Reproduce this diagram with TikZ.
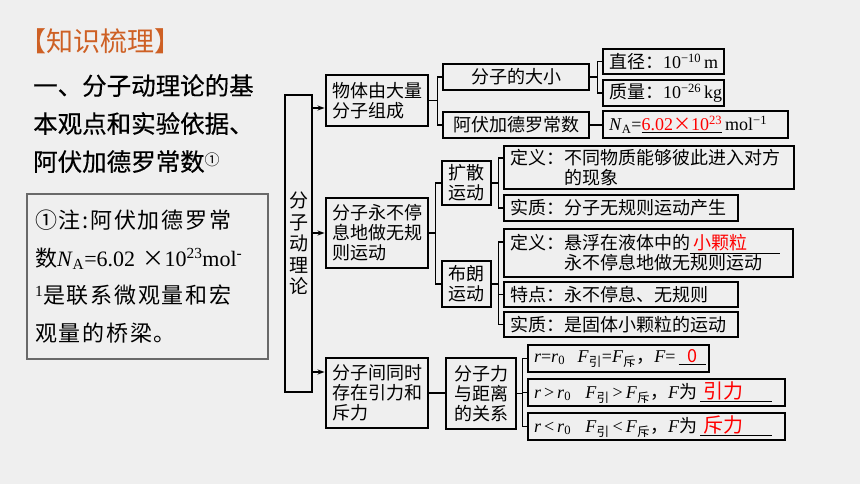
\documentclass[tikz,border=0pt]{standalone}
\usepackage{fontspec}
\usepackage{tikz}
\usepackage{xcolor}
\usetikzlibrary{arrows.meta}
\setmainfont{Liberation Serif}
\newfontfamily\cjk{Noto Sans CJK SC}
\newfontfamily\cjkhead[FakeBold=0.4]{Noto Sans CJK SC}
\newfontfamily\cjknote[LetterSpace=8]{Noto Sans CJK SC}
\definecolor{page-bg}{RGB}{239,239,239}
\definecolor{title-orange}{RGB}{206,96,36}
\definecolor{note-gray}{RGB}{105,105,105}
\newcommand{\Fsub}[1]{\textit{F}\textsubscript{\cjk #1}}
\tikzset{
    map-box/.style = {draw=black, line width=1.5pt, rectangle, inner xsep=6pt, inner ysep=0pt, align=left, font=\cjk\fontsize{18}{20}\selectfont},
    map-line/.style = {draw=black, line width=1.3pt},
    map-arrow/.style = {map-line, -{Stealth[length=7pt,width=5pt]}, shorten >=0.7pt},
    note-box/.style = {draw=note-gray, line width=1.2pt, rectangle, inner xsep=8pt, inner ysep=0pt, align=left, font=\cjknote\fontsize{22}{37.5}\selectfont},
}

\begin{document}
\begin{tikzpicture}[x=1pt,y=-1pt]
\fill[page-bg] (0,0) rectangle (860,484);
\useasboundingbox (0,0) rectangle (860,484);

\node[anchor=west, inner sep=0pt, text=title-orange, font=\cjk\fontsize{27}{27}\selectfont] (title) at (19,41) {【知识梳理】};
\node[anchor=north west, inner sep=0pt, align=left, font=\cjkhead\fontsize{24.5}{38}\selectfont] (heading) at (33,74) {一、分子动理论的基\\本观点和实验依据、\\阿伏加德罗常数{\cjk\fontsize{15}{15}\selectfont\raisebox{5pt}{①}}};
\node[note-box, text width=225pt, minimum height=165pt] (note) at (147.5,276.5) {①注:阿伏加德罗常\\数{\rmfamily\textit{N}\textsubscript{A}=6.02 {\cjk ×}10\textsuperscript{23}mol\textsuperscript{-}}\\{\rmfamily\textsuperscript{1}}是联系微观量和宏\\观量的桥梁。};

\node[map-box, minimum width=27pt, minimum height=297pt, inner xsep=0pt, align=center, font=\cjk\fontsize{19}{21.5}\selectfont] (root) at (298.5,243.5) {分\\子\\动\\理\\论};

\node[map-box, text width=90pt, minimum height=51pt] (b1) at (377,100.5) {物体由大量\\分子组成};
\node[map-box, text width=90pt, minimum height=70pt] (b2) at (377,233) {分子永不停\\息地做无规\\则运动};
\node[map-box, text width=90pt, minimum height=70pt] (b3) at (377,393) {分子间同时\\存在引力和\\斥力};

\node[map-box, minimum width=146pt, minimum height=26pt, align=center] (c1) at (516,77) {分子的大小};
\node[map-box, minimum width=146pt, minimum height=26pt, align=center] (c2) at (516,125) {阿伏加德罗常数};

\node[map-box, text width=109pt, minimum height=25pt] (d1) at (663.5,61.5) {直径：{\rmfamily 10\textsuperscript{−10}\,m}};
\node[map-box, text width=109pt, minimum height=26pt] (d2) at (663.5,93) {质量：{\rmfamily 10\textsuperscript{−26}\,kg}};
\node[map-box, text width=173pt, minimum height=27pt] (d3) at (695.5,124.5) {\rmfamily\textit{N}\textsubscript{A}=\underline{\textcolor{red}{6.02{\cjk ×}10\textsuperscript{23}}}\,mol\textsuperscript{−1}};

\node[map-box, minimum width=49pt, minimum height=44pt, align=center] (e1) at (466.5,183) {扩散\\运动};
\node[map-box, minimum width=49pt, minimum height=46pt, align=center] (e2) at (466.5,284) {布朗\\运动};

\node[map-box, text width=278pt, minimum height=43pt] (f1) at (649,167.5) {定义：不同物质能够彼此进入对方\\\hspace*{3em}的现象};
\node[map-box, text width=222pt, minimum height=26pt] (f2) at (621,208) {实质：分子无规则运动产生};

\node[map-box, text width=277pt, minimum height=48pt] (g1) at (648.5,253) {定义：悬浮在液体中的\underline{\makebox[5em][l]{\hspace{0.2em}\textcolor{red}{小颗粒}}}\\\hspace*{3em}永不停息地做无规则运动};
\node[map-box, text width=222pt, minimum height=25pt] (g2) at (621,294.5) {特点：永不停息、无规则};
\node[map-box, text width=222pt, minimum height=25pt] (g3) at (621,324.5) {实质：是固体小颗粒的运动};

\node[map-box, minimum width=70pt, minimum height=71pt, align=center] (h) at (481,393.5) {分子力\\与距离\\的关系};

\node[map-box, text width=169pt, minimum height=27pt] (i1) at (618.5,358.5) {\rmfamily\mbox{\textit{r}=\textit{r}\textsubscript{0}\hspace{0.7em}\Fsub{引}=\Fsub{斥}{\cjk ，}\textit{F}=\,\underline{\makebox[1.5em]{\textcolor{red}{\cjk 0}}}}};
\node[map-box, text width=245pt, minimum height=27pt] (i2) at (656.5,392.5) {\rmfamily\mbox{\textit{r}\,>\,\textit{r}\textsubscript{0}\hspace{0.8em}\Fsub{引}\,>\,\Fsub{斥}{\cjk ，}\textit{F}{\cjk 为}\,\underline{\makebox[4em][l]{\hspace{0.2em}\textcolor{red}{\cjk\fontsize{20}{20}\selectfont 引力}}}}};
\node[map-box, text width=245pt, minimum height=27pt] (i3) at (656.5,426.5) {\rmfamily\mbox{\textit{r}\,<\,\textit{r}\textsubscript{0}\hspace{0.8em}\Fsub{引}\,<\,\Fsub{斥}{\cjk ，}\textit{F}{\cjk 为}\,\underline{\makebox[4em][l]{\hspace{0.2em}\textcolor{red}{\cjk\fontsize{20}{20}\selectfont 斥力}}}}};

\coordinate (a1) at ([yshift=-7.5pt]b1.west);
\coordinate (a3) at ([yshift=21pt]b3.west);
\draw[map-arrow] (a1 -| root.east) -- (a1);
\draw[map-arrow] (b2.west -| root.east) -- (b2.west);
\draw[map-arrow] (a3 -| root.east) -- (a3);

\draw[map-line] (b1.east) -- ++(9,0) |- (c1.west);
\draw[map-line] (b1.east) ++(9,0) |- (c2.west);
\draw[map-line] (c1.east) -- ++(8,0) |- (d1.west);
\draw[map-line] (c1.east) ++(8,0) |- (d2.west);
\draw[map-line] (c2.east) -- (c2.east -| d3.west);

\draw[map-line] (b2.east) -- ++(7,0) |- (e1.west);
\draw[map-line] (b2.east) ++(7,0) |- (e2.west);
\draw[map-line] (e1.east) -- ++(7,0) |- ([yshift=9.5pt]f1.west);
\draw[map-line] (e1.east) ++(7,0) |- (f2.west);
\draw[map-line] (e2.east) -- ++(7,0) |- ([yshift=11pt]g1.west);
\draw[map-line] (e2.east) ++(7,0) |- (g2.west);
\draw[map-line] (e2.east) ++(7,0) |- (g3.west);

\draw[map-line] (b3.east) -- (b3.east -| h.west);
\draw[map-line] (h.east) -- ++(6,0) |- (i1.west);
\draw[map-line] (h.east) ++(6,0) |- (i2.west);
\draw[map-line] (h.east) ++(6,0) |- (i3.west);
\end{tikzpicture}
\end{document}
